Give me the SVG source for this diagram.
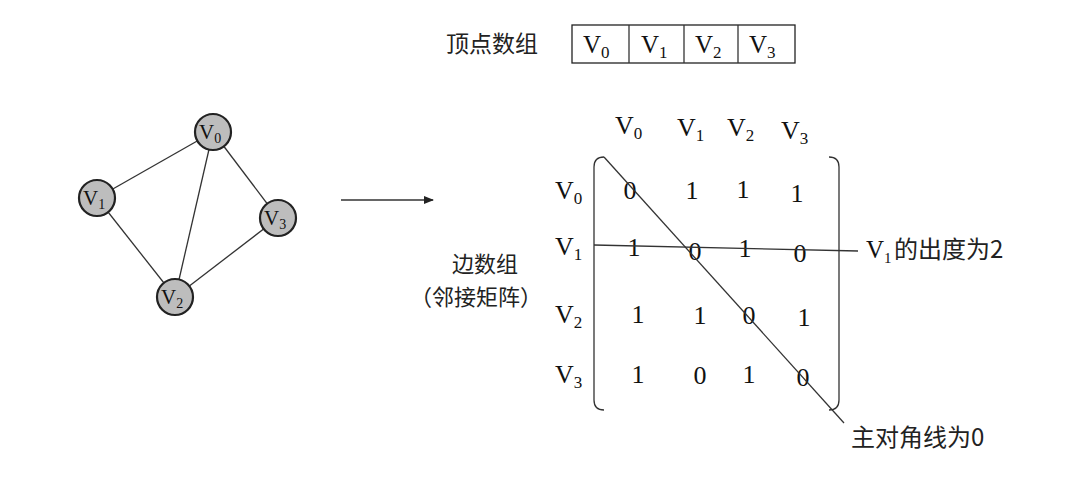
<svg xmlns="http://www.w3.org/2000/svg" width="1075" height="482" viewBox="0 0 1075 482">
<defs>
<style>
.v{font-family:"Liberation Serif","Times New Roman",serif;font-size:26px;fill:#111}
.s{font-size:17px}
.n{font-family:"Liberation Serif","Times New Roman",serif;font-size:26px;fill:#111}
.cn{font-family:"Noto Sans CJK SC","Liberation Sans",sans-serif;font-size:23px;fill:#222}
.ln{stroke:#333;stroke-width:1.3;fill:none}
.node{fill:#bdbdbd;stroke:#222;stroke-width:2.2}
.nv{font-family:"Liberation Serif","Times New Roman",serif;font-size:21px;fill:#111}
.ns{font-size:14px}
.box{fill:#fff;stroke:#222;stroke-width:1.3}
</style>
<marker id="ah" markerWidth="10" markerHeight="8" refX="9" refY="4" orient="auto" markerUnits="userSpaceOnUse">
<path d="M0,0 L10,4 L0,8 Z" fill="#222"/>
</marker>
</defs>
<rect width="1075" height="482" fill="#fff"/>

<g id="vertex-array">
<text class="cn" x="446" y="52">顶点数组</text>
<rect class="box" x="572" y="25" width="223" height="38"/>
<line class="ln" x1="629" y1="25" x2="629" y2="63"/>
<line class="ln" x1="684" y1="25" x2="684" y2="63"/>
<line class="ln" x1="738" y1="25" x2="738" y2="63"/>
<text class="v" x="583" y="53" style="font-size:25px">V<tspan class="s" dy="5">0</tspan></text>
<text class="v" x="641" y="53" style="font-size:25px">V<tspan class="s" dy="5">1</tspan></text>
<text class="v" x="695" y="53" style="font-size:25px">V<tspan class="s" dy="5">2</tspan></text>
<text class="v" x="749" y="53" style="font-size:25px">V<tspan class="s" dy="5">3</tspan></text>
</g>

<g id="connectors">
<line class="ln" x1="213" y1="132" x2="97" y2="198"/>
<line class="ln" x1="213" y1="132" x2="175" y2="297"/>
<line class="ln" x1="213" y1="132" x2="278" y2="218"/>
<line class="ln" x1="97" y1="198" x2="175" y2="297"/>
<line class="ln" x1="278" y1="218" x2="175" y2="297"/>
<line class="ln" x1="341" y1="200" x2="433" y2="200" marker-end="url(#ah)"/>
</g>

<g id="node-v0"><circle class="node" cx="213" cy="132" r="18"/><text class="nv" x="199" y="139">V<tspan class="ns" dy="4">0</tspan></text></g>
<g id="node-v1"><circle class="node" cx="97" cy="198" r="18"/><text class="nv" x="83" y="205">V<tspan class="ns" dy="4">1</tspan></text></g>
<g id="node-v3"><circle class="node" cx="278" cy="218" r="18"/><text class="nv" x="264" y="225">V<tspan class="ns" dy="4">3</tspan></text></g>
<g id="node-v2"><circle class="node" cx="175" cy="297" r="18"/><text class="nv" x="161" y="304">V<tspan class="ns" dy="4">2</tspan></text></g>

<g id="edge-array-label">
<text class="cn" x="452" y="272" style="font-size:22px">边数组</text>
<text class="cn" x="410" y="305" style="font-size:22px">（邻接矩阵）</text>
</g>

<g id="matrix">
<text class="v" x="615" y="134">V<tspan class="s" dy="5">0</tspan></text>
<text class="v" x="677" y="136">V<tspan class="s" dy="5">1</tspan></text>
<text class="v" x="727" y="136">V<tspan class="s" dy="5">2</tspan></text>
<text class="v" x="781" y="139">V<tspan class="s" dy="5">3</tspan></text>

<text class="v" x="555" y="199">V<tspan class="s" dy="5">0</tspan></text>
<text class="v" x="555" y="255">V<tspan class="s" dy="5">1</tspan></text>
<text class="v" x="555" y="323">V<tspan class="s" dy="5">2</tspan></text>
<text class="v" x="555" y="383">V<tspan class="s" dy="5">3</tspan></text>

<path class="ln" d="M604,157 Q594,157 594,167 L594,400 Q594,410 604,410"/>
<path class="ln" d="M829,157 Q839,157 839,167 L839,400 Q839,410 829,410"/>

<g class="n" text-anchor="middle">
<text x="630" y="199">0</text><text x="692" y="199">1</text><text x="743" y="198">1</text><text x="797" y="202">1</text>
<text x="634" y="256">1</text><text x="695" y="260">0</text><text x="745" y="257">1</text><text x="800" y="262">0</text>
<text x="638" y="323">1</text><text x="700" y="324">1</text><text x="749" y="324">0</text><text x="804" y="326">1</text>
<text x="638" y="383">1</text><text x="700" y="384">0</text><text x="749" y="383">1</text><text x="803" y="386">0</text>
</g>

<line class="ln" x1="604" y1="157" x2="844" y2="423"/>
<line class="ln" x1="594" y1="245" x2="858" y2="251"/>
<text class="v" x="866" y="258" style="font-size:25px">V<tspan class="s" dy="5" style="font-size:15px">1</tspan></text>
<text class="cn" x="894" y="258" style="font-size:24px">的出度为2</text>
<text class="cn" x="851" y="446" style="font-size:24px">主对角线为0</text>
</g>
</svg>
